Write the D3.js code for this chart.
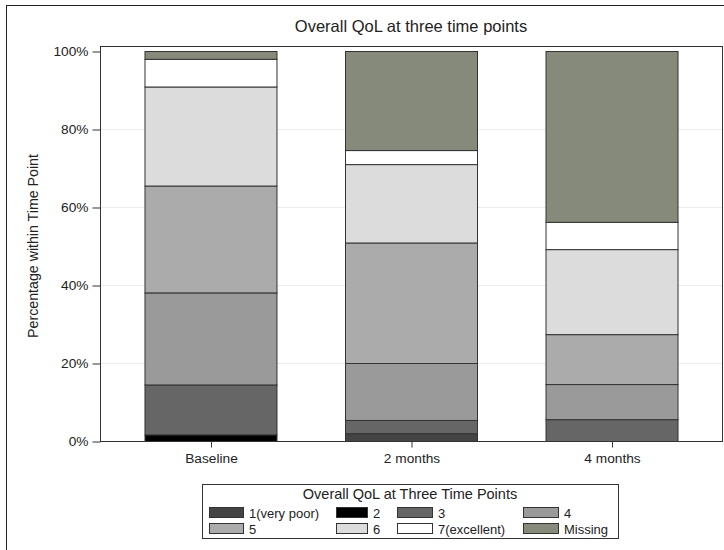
<!DOCTYPE html>
<html>
<head>
<meta charset="utf-8">
<script src="https://cdn.jsdelivr.net/npm/d3@7"></script>
<style>
  body { margin: 0; background: #fff; }
  text { font-family: "Liberation Sans", Arial, sans-serif; fill: #222; }
</style>
</head>
<body>
<svg id="chart" width="724" height="550"></svg>
<script>
// time points on the x axis
const timePoints = ["Baseline", "2 months", "4 months"];
// response levels, stacked bottom -> top
const levels = ["1(very poor)", "2", "3", "4", "5", "6", "7(excellent)", "Missing"];
const levelColors = ["#444444", "#000000", "#666666", "#9a9a9a", "#ababab", "#dcdcdc", "#ffffff", "#868a7b"];
// percent within each time point, one array per level (Baseline, 2 months, 4 months)
const lvl1 = [0, 2.0, 0];
const lvl2 = [1.7, 0, 0];
const lvl3 = [12.8, 3.4, 5.6];
const lvl4 = [23.6, 14.6, 9.0];
const lvl5 = [27.4, 30.9, 12.8];
const lvl6 = [25.4, 20.1, 21.8];
const lvl7 = [7.1, 3.6, 7.0];
const missing = [2.0, 25.4, 43.8];
const yTicks = [0, 20, 40, 60, 80, 100];

const seriesVals = [lvl1, lvl2, lvl3, lvl4, lvl5, lvl6, lvl7, missing];
const rows = timePoints.map((t, i) => {
  let r = {time: t};
  levels.forEach((l, j) => r[l] = seriesVals[j][i]);
  return r;
});

let svg = d3.select("#chart");

// outer frame
svg.append("rect")
  .attr("x", 6.5).attr("y", 5.5)
  .attr("width", 724).attr("height", 560)
  .attr("fill", "none").attr("stroke", "#222").attr("stroke-width", 1);

let plotL = 100, plotR = 722, plotT = 46, plotB = 441;

let x = d3.scalePoint()
  .domain(timePoints)
  .range([plotL, plotR])
  .padding(0.551);
let barW = 132;

let y = d3.scaleLinear()
  .domain([0, 100])
  .range([plotB, 51]);

// grid lines
svg.append("g").selectAll("line")
  .data(yTicks.filter(d => d > 0 && d < 100))
  .join("line")
  .attr("x1", plotL).attr("x2", plotR)
  .attr("y1", d => y(d) + 0.5).attr("y2", d => y(d) + 0.5)
  .attr("stroke", "#ececec");

let stack = d3.stack().keys(levels)(rows);

svg.append("g").selectAll("g")
  .data(stack)
  .join("g")
  .attr("fill", (d, i) => levelColors[i])
  .selectAll("rect")
  .data(d => d.filter(s => s[1] - s[0] > 0))
  .join("rect")
  .attr("x", d => x(d.data.time) - barW / 2 + 0.5)
  .attr("y", d => y(d[1]) + 0.5)
  .attr("width", barW)
  .attr("height", d => y(d[0]) - y(d[1]))
  .attr("stroke", "#333")
  .attr("stroke-width", 1);

// plot frame
svg.append("rect")
  .attr("x", plotL + 0.5).attr("y", plotT + 0.5)
  .attr("width", plotR - plotL).attr("height", plotB - plotT)
  .attr("fill", "none").attr("stroke", "#333");

// y axis
let yAxis = svg.append("g")
  .attr("transform", `translate(${plotL + 0.5},0.5)`)
  .call(d3.axisLeft(y).tickValues(yTicks).tickFormat(d => d + "%").tickSize(8).tickSizeOuter(0));
yAxis.select(".domain").remove();
yAxis.selectAll("line").attr("stroke", "#333");
yAxis.selectAll("text").attr("font-size", 13.7).attr("fill", "#222")
  .style("font-family", "Liberation Sans, Arial, sans-serif").attr("x", -12);

// x axis
let xAxis = svg.append("g")
  .attr("transform", `translate(0.5,${plotB + 0.5})`)
  .call(d3.axisBottom(x).tickSize(6).tickSizeOuter(0));
xAxis.select(".domain").remove();
xAxis.selectAll("line").attr("stroke", "#333");
xAxis.selectAll("text").attr("font-size", 13.7).attr("fill", "#222")
  .style("font-family", "Liberation Sans, Arial, sans-serif").attr("dy", "1.05em").attr("y", 7);

// title
svg.append("text")
  .attr("x", (plotL + plotR) / 2).attr("y", 32)
  .attr("text-anchor", "middle").attr("font-size", 16.5)
  .text("Overall QoL at three time points");

// y label
svg.append("text")
  .attr("transform", `translate(38,${(51 + plotB) / 2}) rotate(-90)`)
  .attr("text-anchor", "middle").attr("font-size", 14.2)
  .text("Percentage within Time Point");

// legend
let lg = svg.append("g");
lg.append("rect")
  .attr("x", 202.5).attr("y", 484.5).attr("width", 416).attr("height", 54)
  .attr("fill", "#fff").attr("stroke", "#333");
lg.append("text")
  .attr("x", 410).attr("y", 499).attr("text-anchor", "middle").attr("font-size", 14.5)
  .text("Overall QoL at Three Time Points");

let colX = [209, 336, 397, 523];
let swW = [34, 31, 35, 35];
let rowY = [507, 523];
levels.forEach((l, i) => {
  let c = i % 4, r = Math.floor(i / 4);
  let sw = swW[c];
  lg.append("rect")
    .attr("x", colX[c] + 0.5).attr("y", rowY[r] + 0.5)
    .attr("width", sw).attr("height", 10)
    .attr("fill", levelColors[i]).attr("stroke", "#333");
  lg.append("text")
    .attr("x", colX[c] + sw + 6).attr("y", rowY[r] + 10.5)
    .attr("font-size", 13)
    .text(l);
});
</script>
</body>
</html>
